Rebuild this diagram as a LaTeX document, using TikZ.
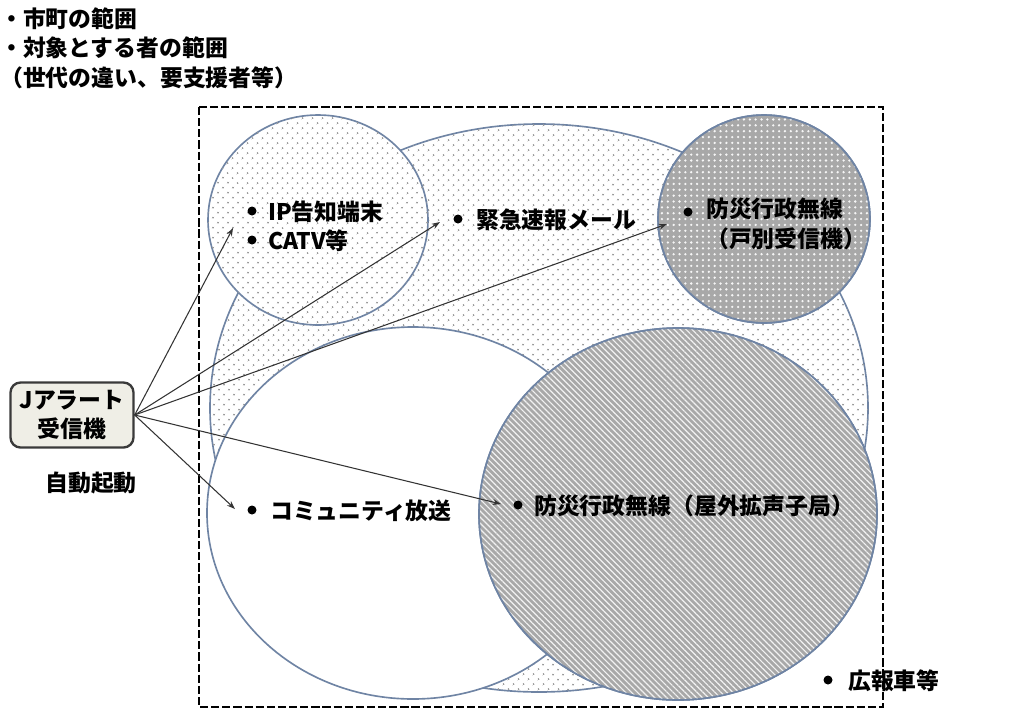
\documentclass[tikz,border=0pt]{standalone}
\usepackage{fontspec}
\newfontfamily\jpfont{Noto Sans CJK JP}
\usetikzlibrary{positioning, arrows.meta, patterns.meta}

\definecolor{circline}{HTML}{6F84A4}
\definecolor{boxfill}{HTML}{EFEEE6}
\definecolor{boxline}{HTML}{3A3A3A}
\definecolor{shade}{HTML}{A8A8A8}
\definecolor{dotgray}{HTML}{9A9A9A}

\begin{document}
\begin{tikzpicture}[
  x=0.03cm, y=-0.03cm,
  font=\jpfont\bfseries\fontsize{19.5}{25}\selectfont,
  circ/.style={draw=circline, line width=1.4pt},
  dotfill/.style={fill=white, postaction={pattern={Dots[distance=6.5pt, angle=45, radius=1pt]}, pattern color=dotgray}},
  greydots/.style={fill=shade, postaction={pattern={Dots[distance=5pt, radius=1.1pt]}, pattern color=white!90!shade}},
  greylines/.style={fill=shade, postaction={pattern={Lines[angle=-45, distance=3.6pt, line width=1pt]}, pattern color=white!85!shade}},
  frame/.style={draw=black, line width=2.3pt, dash pattern=on 7pt off 2.5pt},
  recvbox/.style={draw=boxline, fill=boxfill, line width=2pt, rounded corners=0.3cm, align=center,
    minimum width=3.69cm, minimum height=1.95cm, inner sep=2pt},
  lbl/.style={anchor=west, inner sep=0pt},
  bul/.style={circle, fill=black, inner sep=0pt, minimum size=0.27cm},
  arr/.style={-{Stealth[length=7pt, width=5pt]}, line width=0.9pt, draw=black!80}
]
\useasboundingbox (0,0) rectangle (1033,717);

% --- areas ---
\draw[circ, dotfill] (539,408) ellipse [x radius=329, y radius=284];
\draw[circ, dotfill] (318,220) ellipse [x radius=110, y radius=105];
\draw[circ, greydots] (764,219) ellipse [x radius=106, y radius=104];
\draw[circ, fill=white] (413,513) ellipse [x radius=206, y radius=186];
\draw[circ, greylines] (678,514) ellipse [x radius=199, y radius=186];
\draw[circ] (764,219) ellipse [x radius=106, y radius=104];
\draw[circ] (678,514) ellipse [x radius=199, y radius=186];

% municipal range
\draw[frame] (199,107) rectangle (883,707);

% legend text
\node[lbl] (leg1) at (0,19) {・市町の範囲};
\node[lbl] (leg2) at (0,48) {・対象とする者の範囲};
\node[lbl] (leg3) at (0,78) {（世代の違い、要支援者等）};

% --- receiver ---
\node[recvbox] (recv) at (72,415) {Jアラート\\受信機};
\node (auto) at (91,483) {自動起動};

% --- media ---
\node[bul] (ipdot) at (252,211) {};
\node[lbl] (ip) at (268,212) {IP告知端末};
\node[bul] (catvdot) at (252,240) {};
\node[lbl] (catv) at (268,241) {CATV等};

\node[bul] (maildot) at (458,219) {};
\node[lbl] (mail) at (476,220) {緊急速報メール};

\node[bul] (kdot) at (688,212) {};
\node[lbl, align=left, anchor=north west] (kobetsu) at (706,198) {防災行政無線\\（戸別受信機）};

\node[bul] (commdot) at (252,510) {};
\node[lbl] (comm) at (270,511) {コミュニティ放送};

\node[bul] (outdot) at (518,505) {};
\node[lbl] (outdoor) at (534,506) {防災行政無線（屋外拡声子局）};

\node[bul] (cardot) at (828,680) {};
\node[lbl] (car) at (848,681) {広報車等};

% --- arrows ---
\coordinate (ipEnd) at (233,228);
\coordinate (mailEnd) at (440,222);
\coordinate (kEnd) at (667,224);
\coordinate (commEnd) at (235,509);
\coordinate (outEnd) at (501,504);
\foreach \t in {ipEnd, mailEnd, kEnd, commEnd, outEnd}
  \draw[arr] (recv.east) -- (\t);

\end{tikzpicture}
\end{document}
